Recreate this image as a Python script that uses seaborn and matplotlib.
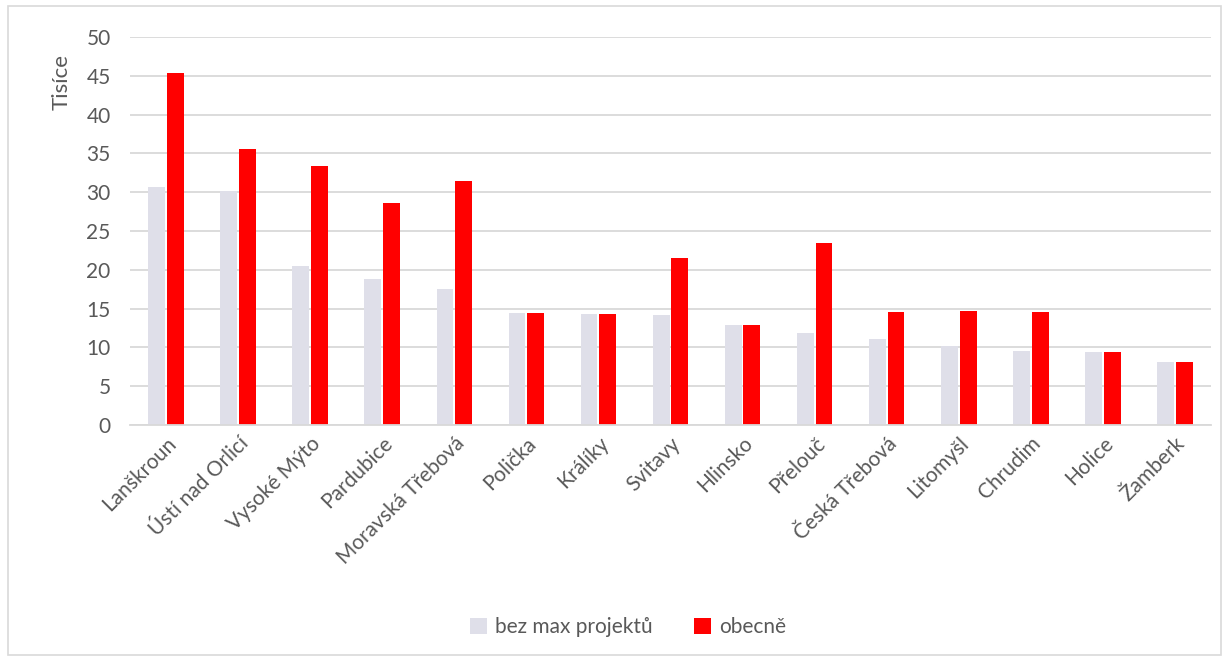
import matplotlib
matplotlib.use("Agg")
import matplotlib.pyplot as plt
import seaborn as sns
import pandas as pd
from matplotlib.patches import Rectangle, Patch

# data (values in thousands)
mesta = ["Lanškroun", "Ústí nad Orlicí", "Vysoké Mýto", "Pardubice", "Moravská Třebová",
         "Polička", "Králíky", "Svitavy", "Hlinsko", "Přelouč", "Česká Třebová",
         "Litomyšl", "Chrudim", "Holice", "Žamberk"]
bez_max = [30.7, 30.2, 20.5, 18.8, 17.5, 14.5, 14.3, 14.2, 12.9, 11.9, 11.1, 10.2, 9.6, 9.4, 8.1]
obecne = [45.4, 35.6, 33.4, 28.6, 31.4, 14.5, 14.3, 21.5, 12.9, 23.4, 14.6, 14.7, 14.6, 9.4, 8.1]
serie = ["bez max projektů", "obecně"]
barvy = ["#dfdfe9", "#ff0000"]

df = pd.DataFrame({"mesto": mesta * 2,
                   "hodnota": bez_max + obecne,
                   "serie": [serie[0]] * len(mesta) + [serie[1]] * len(mesta)})

sns.set_style("white")
plt.rcParams["font.family"] = ["Lato", "DejaVu Sans"]
text_col = "#595959"

fig = plt.figure(figsize=(12.29, 6.61), dpi=100)
ax = fig.add_axes([0.1058, 0.357, 0.8795, 0.587])

sns.barplot(data=df, x="mesto", y="hodnota", hue="serie", palette=barvy,
            width=0.52, gap=0.1, ax=ax, legend=False, saturation=1, linewidth=0)

ax.set_ylim(0, 50)
ax.set_yticks(range(0, 51, 5))
ax.set_xlim(-0.5, len(mesta) - 0.5)
ax.yaxis.grid(True, color="#d9d9d9", linewidth=1.3)
ax.set_axisbelow(True)
for s in ["top", "right", "left"]:
    ax.spines[s].set_visible(False)
ax.spines["bottom"].set_color("#d9d9d9")
ax.spines["bottom"].set_linewidth(1.3)
ax.tick_params(axis="both", length=0, labelsize=15, colors=text_col)
ax.tick_params(axis="y", pad=14)
ax.tick_params(axis="x", pad=6)
ax.set_xticks(range(len(mesta)))
ax.set_xticklabels(mesta, rotation=45, ha="right", rotation_mode="anchor")
ax.set_xlabel("")
ax.set_ylabel("")

fig.text(62 / 1229, 1 - 82 / 661, "Tisíce", rotation=90, ha="center", va="center",
         fontsize=16, color=text_col)

handles = [Patch(facecolor=c, edgecolor="none") for c in barvy]
fig.legend(handles, serie, loc="center", bbox_to_anchor=(628 / 1229, 1 - 627 / 661),
           ncol=2, frameon=False, fontsize=15, labelcolor=text_col,
           handlelength=0.8, handleheight=0.8, handletextpad=0.4, columnspacing=2.0)

# outer chart border
fig.patches.append(Rectangle((8 / 1229, 6 / 661), 1 - 16 / 1229, 1 - 12 / 661,
                             transform=fig.transFigure, fill=False,
                             edgecolor="#d9d9d9", linewidth=1.2))

fig.savefig("out.png", dpi=100)
